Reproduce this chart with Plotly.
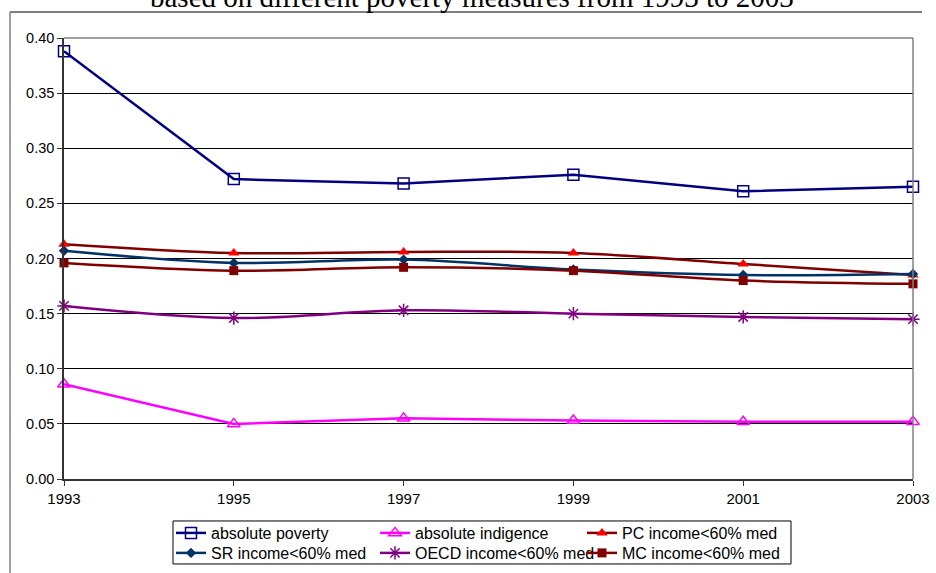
import plotly.graph_objects as go

# Survey years and poverty rates by measure
years = [1993, 1995, 1997, 1999, 2001, 2003]
absolute_poverty = [0.388, 0.272, 0.268, 0.276, 0.261, 0.265]
absolute_indigence = [0.086, 0.050, 0.055, 0.053, 0.052, 0.052]
pc_income = [0.213, 0.205, 0.206, 0.205, 0.195, 0.185]
sr_income = [0.207, 0.196, 0.199, 0.190, 0.185, 0.186]
oecd_income = [0.157, 0.146, 0.153, 0.150, 0.147, 0.145]
mc_income = [0.196, 0.189, 0.192, 0.189, 0.180, 0.177]

y_ticks = [0.00, 0.05, 0.10, 0.15, 0.20, 0.25, 0.30, 0.35, 0.40]
y_tick_text = ["0.00", "0.05", "0.10", "0.15", "0.20", "0.25", "0.30", "0.35", "0.40"]

title_text = "based on different poverty measures from 1993 to 2003"

SANS = "Liberation Sans, Arial, sans-serif"
SERIF = "Liberation Serif, Times New Roman, serif"

W, H = 936, 573

fig = go.Figure()

series = [
    dict(name="absolute poverty", y=absolute_poverty, line=dict(color="#000080", width=2.5, shape="linear"),
         marker=dict(symbol="square-open", size=11, color="#000080", line=dict(width=1.5, color="#000080"))),
    dict(name="absolute indigence", y=absolute_indigence, line=dict(color="#FF00FF", width=2.5, shape="linear"),
         marker=dict(symbol="triangle-up-open", size=11, color="#FF00FF", line=dict(width=1.5, color="#FF00FF"))),
    dict(name="PC income<60% med", y=pc_income, line=dict(color="#800000", width=2.5, shape="spline"),
         marker=dict(symbol="triangle-up", size=10, color="#FF0000")),
    dict(name="SR income<60% med", y=sr_income, line=dict(color="#003366", width=2.5, shape="spline"),
         marker=dict(symbol="diamond", size=8, color="#003366")),
    dict(name="OECD income<60% med", y=oecd_income, line=dict(color="#800080", width=2.5, shape="spline"),
         marker=dict(symbol="asterisk-open", size=11, color="#800080", line=dict(width=1.5, color="#800080"))),
    dict(name="MC income<60% med", y=mc_income, line=dict(color="#800000", width=2.5, shape="spline"),
         marker=dict(symbol="square", size=9, color="#800000")),
]

# one legend per entry, laid out as a 3 x 2 grid (container pixel positions)
legend_ids = ["legend", "legend2", "legend3", "legend4", "legend5", "legend6"]
legend_px = [(171, 516), (375, 516), (582, 516), (171, 536), (375, 536), (582, 536)]

for s, lid in zip(series, legend_ids):
    fig.add_trace(go.Scatter(
        x=years, y=s["y"], name=s["name"], mode="lines+markers",
        line=s["line"], marker=s["marker"], legend=lid, cliponaxis=False,
    ))

legend_layout = {}
for lid, (px, py) in zip(legend_ids, legend_px):
    legend_layout[lid] = dict(
        orientation="v", bgcolor="rgba(0,0,0,0)", borderwidth=0,
        font=dict(family=SANS, size=16, color="#000000"),
        itemwidth=30, xref="container", yref="container",
        x=px / W, y=1 - py / H, xanchor="left", yanchor="top",
    )

fig.update_layout(
    width=W, height=H,
    margin=dict(l=64, r=23, t=38, b=94, autoexpand=False),
    paper_bgcolor="white", plot_bgcolor="white",
    showlegend=True,
    **legend_layout,
    xaxis=dict(
        range=[1993, 2003], tickvals=years, ticktext=[str(v) for v in years],
        showgrid=False, zeroline=False,
        showline=True, linecolor="#333333", linewidth=1.5,
        ticks="outside", ticklen=5, tickcolor="#333333",
        tickfont=dict(family=SANS, size=15, color="#000000"),
    ),
    yaxis=dict(
        range=[0, 0.40], tickvals=y_ticks, ticktext=y_tick_text,
        showgrid=True, gridcolor="#000000", gridwidth=1, zeroline=False,
        showline=True, linecolor="#333333", linewidth=1.5,
        ticks="outside", ticklen=5, tickcolor="#333333",
        tickfont=dict(family=SANS, size=14.5, color="#000000"),
    ),
    shapes=[
        # grey plot-area frame on top and right
        dict(type="line", xref="paper", yref="paper", x0=0, x1=1, y0=1, y1=1,
             line=dict(color="#808080", width=1.5), layer="above"),
        dict(type="line", xref="paper", yref="paper", x0=1, x1=1, y0=0, y1=1,
             line=dict(color="#808080", width=1.5), layer="above"),
        # outer chart frame
        dict(type="line", xref="paper", yref="paper", x0=-0.0636, x1=1.0106, y0=1.059, y1=1.059,
             line=dict(color="#555555", width=1.5)),
        dict(type="line", xref="paper", yref="paper", x0=-0.0636, x1=-0.0636, y0=-0.25, y1=1.059,
             line=dict(color="#808080", width=1.5)),
        # legend box
        dict(type="rect", xref="paper", yref="paper", x0=0.1284, x1=0.8563, y0=-0.1927, y1=-0.0952,
             line=dict(color="#000000", width=1), fillcolor="rgba(0,0,0,0)"),
    ],
    annotations=[
        dict(text=title_text, xref="paper", yref="paper", x=0.4806, y=1.093,
             xanchor="center", yanchor="middle", showarrow=False,
             font=dict(family=SERIF, size=29, color="#000000")),
    ],
)

fig.write_html("out.html")
